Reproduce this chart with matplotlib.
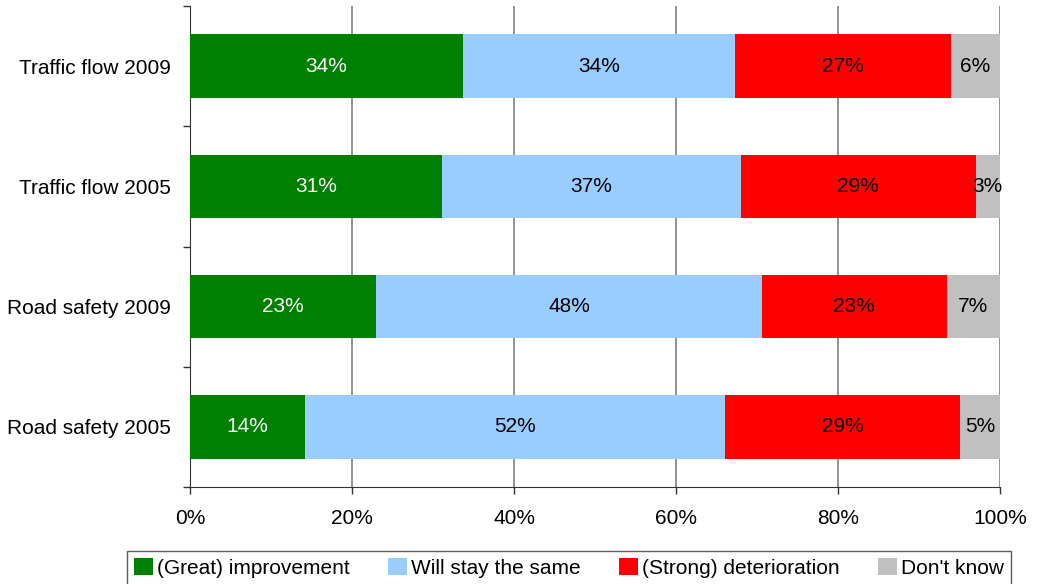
import matplotlib
matplotlib.use("Agg")
import numpy as np
from matplotlib import pyplot as plt

plt.rcParams['font.family'] = ['Liberation Sans', 'DejaVu Sans']

categories = ["Road safety 2005", "Road safety 2009", "Traffic flow 2005", "Traffic flow 2009"]
series_names = ["(Great) improvement", "Will stay the same", "(Strong) deterioration", "Don't know"]
improvement = [14.2, 23.0, 31.1, 33.7]
same = [51.9, 47.6, 36.9, 33.6]
deterioration = [29.0, 22.8, 29.0, 26.6]
dont_know = [4.9, 6.6, 3.0, 6.1]
colors = ["#008000", "#99ccff", "#ff0000", "#c0c0c0"]
text_colors = ["white", "black", "black", "black"]
xtick_labels = ["0%", "20%", "40%", "60%", "80%", "100%"]

fs = 15

fig = plt.figure(figsize=(10.45, 5.84), dpi=100)
ax = fig.add_axes([190 / 1045, 1 - 487 / 584, 810 / 1045, 481 / 584])

y = np.arange(len(categories))
left = np.zeros(len(categories))
handles = []
for vals, name, col, tc in zip([improvement, same, deterioration, dont_know], series_names, colors, text_colors):
    vals = np.array(vals)
    b = ax.barh(y, vals, left=left, height=0.53, color=col, label=name, zorder=3)
    handles.append(b)
    for yi, l, v in zip(y, left, vals):
        ax.text(l + v / 2, yi, "%d%%" % round(v), ha="center", va="center",
                color=tc, fontsize=fs, zorder=4)
    left = left + vals

ax.set_xlim(0, 100)
ax.set_ylim(-0.5, len(categories) - 0.5)
ax.set_xticks([0, 20, 40, 60, 80, 100])
ax.set_xticklabels(xtick_labels, fontsize=fs)
ax.set_yticks(y)
ax.set_yticklabels(categories, fontsize=fs)
ax.tick_params(axis="y", length=0, pad=14)
ax.set_yticks(np.arange(-0.5, len(categories), 1), minor=True)
ax.tick_params(axis="y", which="minor", length=5, width=1, color="#333333")
ax.tick_params(axis="x", length=5, width=1, color="#333333", pad=11)
ax.xaxis.grid(True, color="#808080", linewidth=1.2, zorder=0)
ax.spines["top"].set_visible(False)
ax.spines["right"].set_visible(False)
ax.spines["left"].set_color("#333333")
ax.spines["bottom"].set_color("#333333")

leg = fig.legend(handles=handles, loc="lower center", ncol=4, bbox_to_anchor=(569 / 1045, -0.02),
                 frameon=True, fancybox=False, edgecolor="#333333", fontsize=fs,
                 handlelength=0.9, handleheight=0.9, handletextpad=0.2, columnspacing=1.85,
                 borderpad=0.35)
leg.get_frame().set_linewidth(1)

fig.savefig("out.png", dpi=100)
